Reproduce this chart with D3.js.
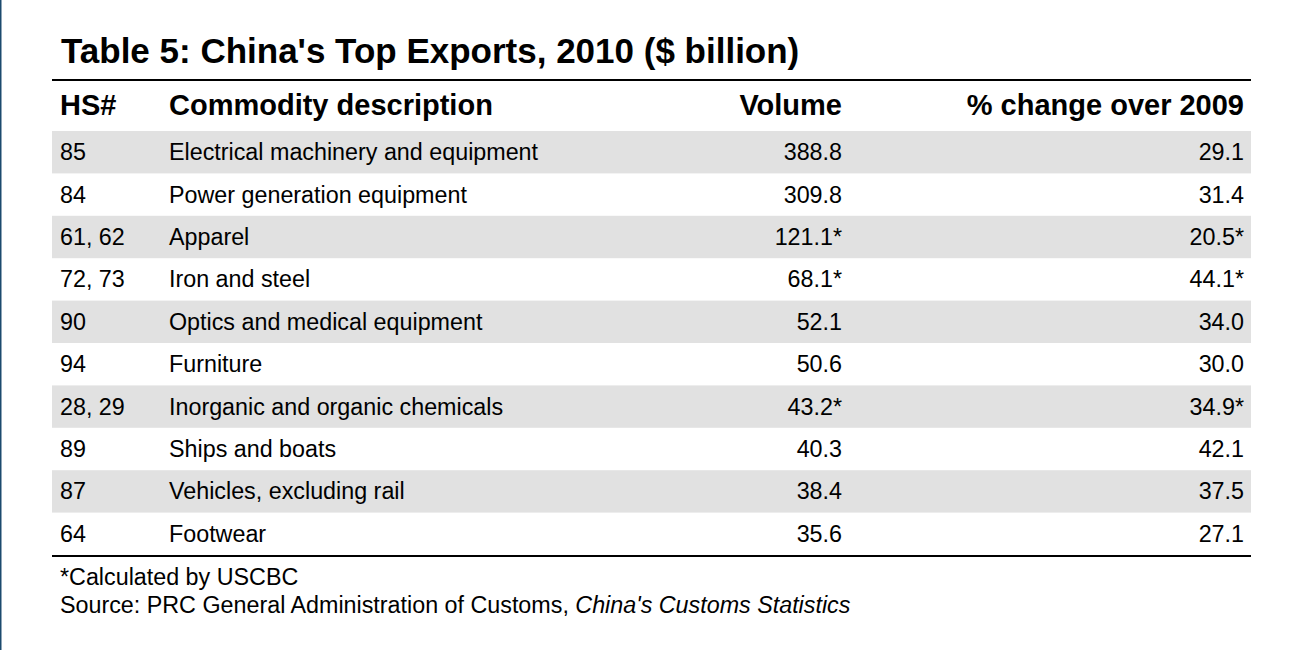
<!DOCTYPE html>
<html>
<head>
<meta charset="utf-8">
<script src="https://cdn.jsdelivr.net/npm/d3@7"></script>
<style>
  html, body { margin: 0; padding: 0; background: #ffffff; }
  svg { display: block; }
  text { font-family: "Liberation Sans", Arial, sans-serif; fill: #000; }
</style>
</head>
<body>
<div id="chart"></div>
<script>
// ---- Data ----
const title = "Table 5: China's Top Exports, 2010 ($ billion)";
const headers = ["HS#", "Commodity description", "Volume", "% change over 2009"];
const hsCodes = ["85", "84", "61, 62", "72, 73", "90", "94", "28, 29", "89", "87", "64"];
const commodities = [
  "Electrical machinery and equipment",
  "Power generation equipment",
  "Apparel",
  "Iron and steel",
  "Optics and medical equipment",
  "Furniture",
  "Inorganic and organic chemicals",
  "Ships and boats",
  "Vehicles, excluding rail",
  "Footwear"
];
const volumes = [388.8, 309.8, 121.1, 68.1, 52.1, 50.6, 43.2, 40.3, 38.4, 35.6];
const changes = [29.1, 31.4, 20.5, 44.1, 34.0, 30.0, 34.9, 42.1, 37.5, 27.1];
const calculatedByUSCBC = [false, false, true, true, false, false, true, false, false, false];
const footnote = "*Calculated by USCBC";
const sourcePlain = "Source: PRC General Administration of Customs, ";
const sourceItalic = "China's Customs Statistics";

// ---- Layout ----
const W = 1304, H = 650;
const tableLeft = 52, tableRight = 1251;
const rowsTop = 131, rowsBottom = 555;

const svg = d3.select("#chart").append("svg")
  .attr("width", W).attr("height", H);

// left border accent
svg.append("rect").attr("x", 0).attr("y", 0).attr("width", 1.5).attr("height", H)
  .attr("fill", "#1c4a6e");

// title
svg.append("text")
  .attr("x", 61).attr("y", 63)
  .attr("font-size", 35).attr("font-weight", "bold")
  .text(title);

// top rule
svg.append("rect").attr("x", tableLeft).attr("y", 79).attr("width", tableRight - tableLeft).attr("height", 2)
  .attr("fill", "#000");

// column positions
const cols = [
  { x: 60, anchor: "start" },
  { x: 169, anchor: "start" },
  { x: 842, anchor: "end" },
  { x: 1244, anchor: "end" }
];

// header
svg.append("g").selectAll("text").data(headers).join("text")
  .attr("x", (d, i) => cols[i].x)
  .attr("y", 115)
  .attr("text-anchor", (d, i) => cols[i].anchor)
  .attr("font-size", 29).attr("font-weight", "bold")
  .text(d => d);

// rows
const rowIdx = d3.range(hsCodes.length);
const y = d3.scaleBand().domain(rowIdx).range([rowsTop, rowsBottom]).padding(0);

svg.append("g").selectAll("rect").data(rowIdx.filter(i => i % 2 === 0)).join("rect")
  .attr("x", tableLeft).attr("width", tableRight - tableLeft)
  .attr("y", i => y(i)).attr("height", y.bandwidth())
  .attr("fill", "#e1e1e1");

const star = i => calculatedByUSCBC[i] ? "*" : "";
const cellText = [
  i => hsCodes[i],
  i => commodities[i],
  i => volumes[i].toFixed(1) + star(i),
  i => changes[i].toFixed(1) + star(i)
];

const rowG = svg.append("g").selectAll("g").data(rowIdx).join("g")
  .attr("transform", i => `translate(0,${y(i) + y.bandwidth() / 2 + 8})`);

cols.forEach((c, ci) => {
  rowG.append("text")
    .attr("x", c.x)
    .attr("text-anchor", c.anchor)
    .attr("font-size", 23.3)
    .text(i => cellText[ci](i));
});

// bottom rule
svg.append("rect").attr("x", tableLeft).attr("y", rowsBottom).attr("width", tableRight - tableLeft).attr("height", 2)
  .attr("fill", "#000");

// footnotes
svg.append("text").attr("x", 60).attr("y", 585).attr("font-size", 23.3).text(footnote);
const src = svg.append("text").attr("x", 60).attr("y", 613).attr("font-size", 23.3);
src.append("tspan").text(sourcePlain);
src.append("tspan").attr("font-style", "italic").text(sourceItalic);
</script>
</body>
</html>
